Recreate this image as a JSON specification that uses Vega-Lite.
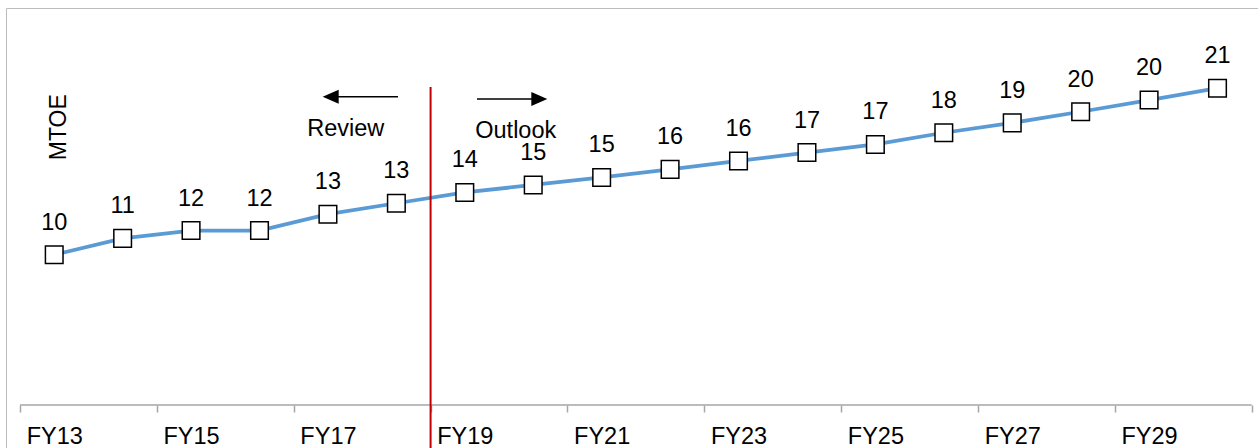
{
  "$schema": "https://vega.github.io/schema/vega-lite/v6.json",
  "width": 1252,
  "height": 440,
  "autosize": {"type": "none"},
  "padding": {"left": 6, "top": 8, "right": 0, "bottom": 0},
  "background": "white",
  "config": {
    "view": {"stroke": null},
    "font": "Liberation Sans",
    "axis": {"grid": false},
    "text": {"font": "Liberation Sans", "fontSize": 23.5, "color": "#000000"}
  },
  "datasets": {
    "energy": [
      {"fy": "FY13", "year": 13, "mtoe": 10.02},
      {"fy": "FY14", "year": 14, "mtoe": 11.11},
      {"fy": "FY15", "year": 15, "mtoe": 11.63},
      {"fy": "FY16", "year": 16, "mtoe": 11.63},
      {"fy": "FY17", "year": 17, "mtoe": 12.72},
      {"fy": "FY18", "year": 18, "mtoe": 13.45},
      {"fy": "FY19", "year": 19, "mtoe": 14.17},
      {"fy": "FY20", "year": 20, "mtoe": 14.67},
      {"fy": "FY21", "year": 21, "mtoe": 15.17},
      {"fy": "FY22", "year": 22, "mtoe": 15.71},
      {"fy": "FY23", "year": 23, "mtoe": 16.27},
      {"fy": "FY24", "year": 24, "mtoe": 16.83},
      {"fy": "FY25", "year": 25, "mtoe": 17.37},
      {"fy": "FY26", "year": 26, "mtoe": 18.15},
      {"fy": "FY27", "year": 27, "mtoe": 18.81},
      {"fy": "FY28", "year": 28, "mtoe": 19.55},
      {"fy": "FY29", "year": 29, "mtoe": 20.33},
      {"fy": "FY30", "year": 30, "mtoe": 21.12}
    ],
    "single": [{}]
  },
  "resolve": {"axis": {"x": "independent", "y": "independent"}},
  "layer": [
    {
      "data": {"name": "energy"},
      "mark": {"type": "line", "color": "#5B9BD5", "strokeWidth": 3.75},
      "encoding": {
        "x": {
          "field": "year",
          "type": "quantitative",
          "scale": {"domain": [12.2954, 30.5915], "nice": false, "zero": false},
          "axis": {
            "orient": "bottom",
            "offset": -43,
            "title": null,
            "domain": false,
            "values": [12.5, 13, 14.5, 15, 16.5, 17, 18.5, 19, 20.5, 21, 22.5, 23, 24.5, 25, 26.5, 27, 28.5, 29, 30.5],
            "labelExpr": "datum.value % 1 === 0 ? 'FY' + datum.value : ''",
            "labelOverlap": false,
            "labelFlush": false,
            "labelBound": false,
            "labelFont": "Liberation Sans",
            "labelFontSize": 23.5,
            "labelColor": "#000000",
            "labelBaseline": "alphabetic",
            "labelPadding": 31,
            "tickSize": 7,
            "tickWidth": 1.5,
            "tickColor": "#a6a6a6",
            "tickOpacity": {"condition": {"test": "datum.value % 1 === 0", "value": 0}, "value": 1}
          }
        },
        "y": {
          "field": "mtoe",
          "type": "quantitative",
          "scale": {"domain": [-2.8667, 26.4667], "nice": false, "zero": false},
          "axis": {
            "orient": "left",
            "domain": true,
            "domainColor": "#bcbcbc",
            "domainWidth": 1,
            "ticks": false,
            "labels": false,
            "title": "MTOE",
            "titleFont": "Liberation Sans",
            "titleFontSize": 23,
            "titleFontWeight": "normal",
            "titleColor": "#000000",
            "titleAngle": -90,
            "titleAlign": "center",
            "titleBaseline": "alphabetic",
            "titleX": 59,
            "titleY": 118.7
          }
        }
      }
    },
    {
      "data": {"name": "energy"},
      "mark": {"type": "point", "shape": "square", "size": 310, "filled": true, "fill": "#ffffff", "stroke": "#000000", "strokeWidth": 1.5, "opacity": 1},
      "encoding": {
        "x": {"field": "year", "type": "quantitative", "scale": {"domain": [12.2954, 30.5915], "nice": false, "zero": false}, "axis": null},
        "y": {"field": "mtoe", "type": "quantitative", "scale": {"domain": [-2.8667, 26.4667], "nice": false, "zero": false}, "axis": null}
      }
    },
    {
      "data": {"name": "energy"},
      "mark": {"type": "text", "align": "center", "baseline": "alphabetic", "dy": -25},
      "encoding": {
        "x": {"field": "year", "type": "quantitative", "scale": {"domain": [12.2954, 30.5915], "nice": false, "zero": false}, "axis": null},
        "y": {"field": "mtoe", "type": "quantitative", "scale": {"domain": [-2.8667, 26.4667], "nice": false, "zero": false}, "axis": null},
        "text": {"field": "mtoe", "type": "quantitative", "format": ".0f"}
      }
    },
    {
      "data": {"name": "single"},
      "mark": {"type": "rule", "color": "#a6a6a6", "strokeWidth": 1.5},
      "encoding": {
        "x": {"datum": 12.5, "type": "quantitative", "scale": {"domain": [12.2954, 30.5915], "nice": false, "zero": false}, "axis": null},
        "x2": {"datum": 30.5},
        "y": {"datum": 0, "type": "quantitative", "scale": {"domain": [-2.8667, 26.4667], "nice": false, "zero": false}, "axis": null}
      }
    },
    {
      "data": {"name": "single"},
      "mark": {"type": "rule", "color": "#C00000", "strokeWidth": 2},
      "encoding": {
        "x": {
          "datum": 18.5,
          "type": "quantitative",
          "scale": {"domain": [12.2954, 30.5915], "nice": false, "zero": false},
          "axis": {"orient": "top", "domain": true, "domainColor": "#bcbcbc", "domainWidth": 1, "ticks": false, "labels": false, "title": null}
        },
        "y": {"datum": 21.2, "type": "quantitative", "scale": {"domain": [-2.8667, 26.4667], "nice": false, "zero": false}, "axis": null},
        "y2": {"datum": -2.8667}
      }
    },
    {
      "data": {"name": "single"},
      "mark": {"type": "rule", "color": "#000000", "strokeWidth": 1.5},
      "encoding": {
        "x": {"datum": 17.1, "type": "quantitative", "scale": {"domain": [12.2954, 30.5915], "nice": false, "zero": false}, "axis": null},
        "x2": {"datum": 18.024},
        "y": {"datum": 20.55, "type": "quantitative", "scale": {"domain": [-2.8667, 26.4667], "nice": false, "zero": false}, "axis": null}
      }
    },
    {
      "data": {"name": "single"},
      "mark": {"type": "point", "shape": "M-1,0L1,-0.875L1,0.875Z", "size": 256, "filled": true, "color": "#000000", "opacity": 1},
      "encoding": {
        "x": {"datum": 17.04, "type": "quantitative", "scale": {"domain": [12.2954, 30.5915], "nice": false, "zero": false}, "axis": null},
        "y": {"datum": 20.55, "type": "quantitative", "scale": {"domain": [-2.8667, 26.4667], "nice": false, "zero": false}, "axis": null}
      }
    },
    {
      "data": {"name": "single"},
      "mark": {"type": "rule", "color": "#000000", "strokeWidth": 1.5},
      "encoding": {
        "x": {"datum": 19.178, "type": "quantitative", "scale": {"domain": [12.2954, 30.5915], "nice": false, "zero": false}, "axis": null},
        "x2": {"datum": 20.03},
        "y": {"datum": 20.4, "type": "quantitative", "scale": {"domain": [-2.8667, 26.4667], "nice": false, "zero": false}, "axis": null}
      }
    },
    {
      "data": {"name": "single"},
      "mark": {"type": "point", "shape": "M1,0L-1,-0.875L-1,0.875Z", "size": 256, "filled": true, "color": "#000000", "opacity": 1},
      "encoding": {
        "x": {"datum": 20.089, "type": "quantitative", "scale": {"domain": [12.2954, 30.5915], "nice": false, "zero": false}, "axis": null},
        "y": {"datum": 20.4, "type": "quantitative", "scale": {"domain": [-2.8667, 26.4667], "nice": false, "zero": false}, "axis": null}
      }
    },
    {
      "data": {"name": "single"},
      "mark": {"type": "text", "align": "center", "baseline": "alphabetic", "text": "Review"},
      "encoding": {
        "x": {"datum": 17.26, "type": "quantitative", "scale": {"domain": [12.2954, 30.5915], "nice": false, "zero": false}, "axis": null},
        "y": {"datum": 17.95, "type": "quantitative", "scale": {"domain": [-2.8667, 26.4667], "nice": false, "zero": false}, "axis": null}
      }
    },
    {
      "data": {"name": "single"},
      "mark": {"type": "text", "align": "center", "baseline": "alphabetic", "text": "Outlook"},
      "encoding": {
        "x": {"datum": 19.745, "type": "quantitative", "scale": {"domain": [12.2954, 30.5915], "nice": false, "zero": false}, "axis": null},
        "y": {"datum": 17.82, "type": "quantitative", "scale": {"domain": [-2.8667, 26.4667], "nice": false, "zero": false}, "axis": null}
      }
    }
  ]
}
